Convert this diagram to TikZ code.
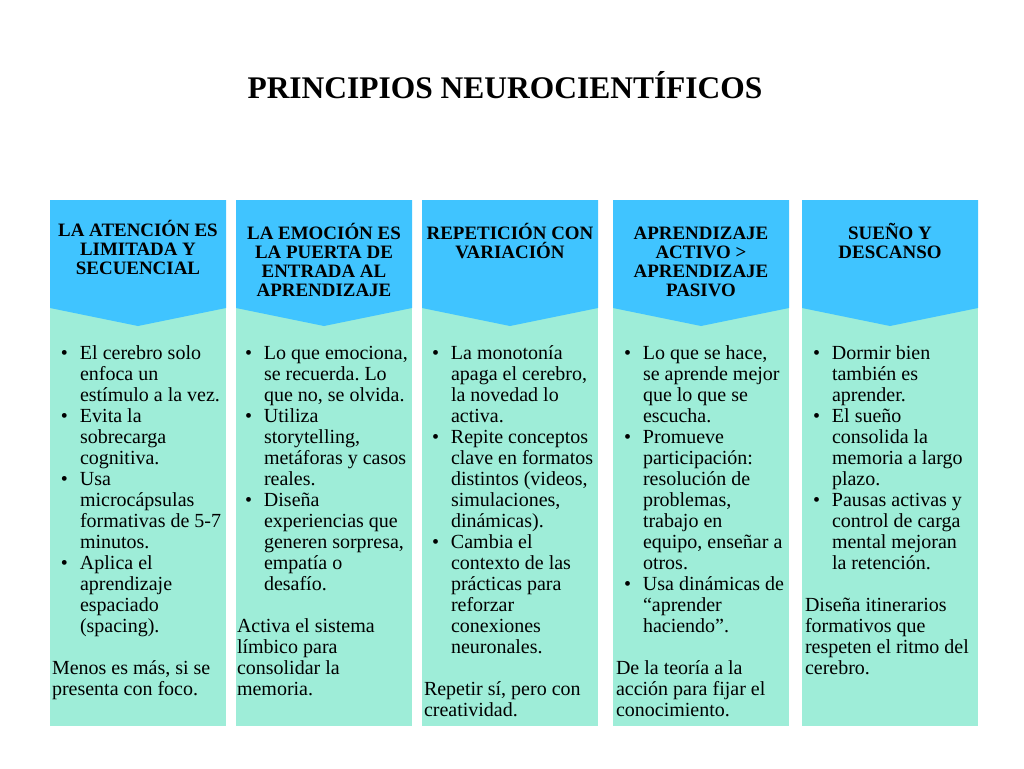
\documentclass[tikz,border=0pt]{standalone}
\usepackage{fontspec}
\setmainfont{Liberation Serif}
\frenchspacing
\definecolor{hdr}{HTML}{40C4FF}
\definecolor{bdy}{HTML}{9EEDD8}
\newcommand\bul{\leavevmode\llap{\textbullet\hspace{9pt}}}
\newcommand\bodybox[1]{\parbox[t]{200pt}{\raggedright\frenchspacing\fontsize{15}{15.75}\selectfont #1}}
\newcommand\hdrbox[1]{\parbox[t]{200pt}{\centering\bfseries\fontsize{14.2}{14.25}\selectfont #1}}
\begin{document}
\begin{tikzpicture}[x=0.75pt,y=-0.75pt,
  txt/.style={inner sep=0pt, outer sep=0pt, anchor=base west},
  htxt/.style={inner sep=0pt, outer sep=0pt, anchor=base}]
\useasboundingbox[fill=white] (0,0) rectangle (1024,768);
% columns: left, right
\foreach \L/\R in {50/226, 236/412, 422/598, 613/789, 802/978}{
  \pgfmathsetmacro\C{(\L+\R)/2}
  \fill[bdy] (\L,308) rectangle (\R,726);
  \fill[hdr] (\L,200) -- (\R,200) -- (\R,308) -- (\C,326) -- (\L,308) -- cycle;
}
\node[htxt, font=\bfseries\fontsize{23.6}{26}\selectfont] (title) at (505,98.5) {PRINCIPIOS NEUROCIENTÍFICOS};
% headers
\node[htxt] (h1) at (138,236) {\hdrbox{LA ATENCIÓN ES\\LIMITADA Y\\SECUENCIAL}};
\node[htxt] (h2) at (324,239) {\hdrbox{LA EMOCIÓN ES\\LA PUERTA DE\\ENTRADA AL\\APRENDIZAJE}};
\node[htxt] (h3) at (510,239) {\hdrbox{REPETICIÓN CON\\VARIACIÓN}};
\node[htxt] (h4) at (701,239) {\hdrbox{APRENDIZAJE\\ACTIVO >\\APRENDIZAJE\\PASIVO}};
\node[htxt] (h5) at (890,239) {\hdrbox{SUEÑO Y\\DESCANSO}};
% bodies
\node[txt] (b1) at (80,359) {\bodybox{\bul El cerebro solo\\enfoca un\\estímulo a la vez.\\\bul Evita la\\sobrecarga\\cognitiva.\\\bul Usa\\microcápsulas\\formativas de 5-7\\minutos.\\\bul Aplica el\\aprendizaje\\espaciado\\(spacing).}};
\node[txt] (f1) at (52,674) {\bodybox{Menos es más, si se\\presenta con foco.}};
\node[txt] (b2) at (264,359) {\bodybox{\bul Lo que emociona,\\se recuerda. Lo\\que no, se olvida.\\\bul Utiliza\\storytelling,\\metáforas y casos\\reales.\\\bul Diseña\\experiencias que\\generen sorpresa,\\empatía o\\desafío.}};
\node[txt] (f2) at (237,632) {\bodybox{Activa el sistema\\límbico para\\consolidar la\\memoria.}};
\node[txt] (b3) at (451,359) {\bodybox{\bul La monotonía\\apaga el cerebro,\\la novedad lo\\activa.\\\bul Repite conceptos\\clave en formatos\\distintos (videos,\\simulaciones,\\dinámicas).\\\bul Cambia el\\contexto de las\\prácticas para\\reforzar\\conexiones\\neuronales.}};
\node[txt] (f3) at (424,695) {\bodybox{Repetir sí, pero con\\creatividad.}};
\node[txt] (b4) at (643,359) {\bodybox{\bul Lo que se hace,\\se aprende mejor\\que lo que se\\escucha.\\\bul Promueve\\participación:\\resolución de\\problemas,\\trabajo en\\equipo, enseñar a\\otros.\\\bul Usa dinámicas de\\“aprender\\haciendo”.}};
\node[txt] (f4) at (616,674) {\bodybox{De la teoría a la\\acción para fijar el\\conocimiento.}};
\node[txt] (b5) at (832,359) {\bodybox{\bul Dormir bien\\también es\\aprender.\\\bul El sueño\\consolida la\\memoria a largo\\plazo.\\\bul Pausas activas y\\control de carga\\mental mejoran\\la retención.}};
\node[txt] (f5) at (805,611) {\bodybox{Diseña itinerarios\\formativos que\\respeten el ritmo del\\cerebro.}};
\end{tikzpicture}
\end{document}
